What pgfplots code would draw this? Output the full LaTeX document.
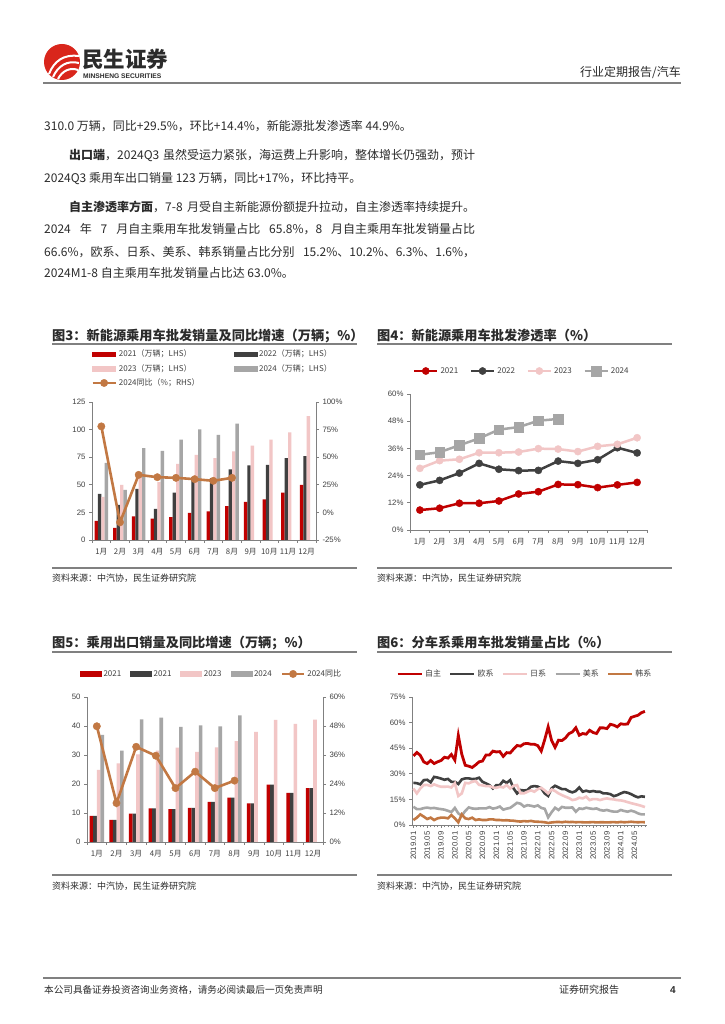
\documentclass[border=0pt]{standalone}
\usepackage{fontspec}
\setmainfont{Noto Sans CJK SC}
\newfontfamily\lat{Liberation Sans}
\usepackage{pgfplots}
\pgfplotsset{compat=1.18}
\usepackage{pgfplotstable}
\XeTeXlinebreaklocale "zh"
\XeTeXlinebreakskip=0pt plus 10pt

\newcommand\fs[1]{\fontsize{#1}{#1}\selectfont}

\definecolor{cred}{HTML}{C00000}
\definecolor{cdark}{HTML}{404040}
\definecolor{cpink}{HTML}{F2C6C6}
\definecolor{cgray}{HTML}{A6A6A6}
\definecolor{corange}{HTML}{C27843}
\definecolor{caxis}{HTML}{808080}
\definecolor{ctext}{HTML}{404040}
\definecolor{cbody}{HTML}{2B2B2B}
\definecolor{logored}{HTML}{D9261C}

% 图3 新能源乘用车批发销量(万辆) / 2024同比(%)
\pgfplotstableread{
m a b c d g
0 17.3 41.8 39.0 69.9 77.9
1 10.9 31.8 49.9 45.4 -9.0
2 21.5 46.3 60.0 83.2 34.0
3 19.4 28.1 52.5 80.8 31.9
4 20.6 43.0 69.0 90.8 31.3
5 24.5 57.0 77.2 100.2 30.1
6 26.0 56.0 74.2 95.3 28.6
7 30.6 63.9 80.2 105.3 31.3
8 34.5 67.5 85.4 nan nan
9 36.9 68.1 90.8 nan nan
10 43.0 74.2 97.5 nan nan
11 49.9 76.0 112.3 nan nan
}\tabthree

% 图4 渗透率(%)
\pgfplotstableread{
m a b c d
0 8.8 19.9 27.2 33.2
1 9.6 21.9 30.6 34.3
2 11.8 25.1 31.2 37.4
3 11.8 29.4 34.1 40.4
4 12.8 26.8 34.1 44.3
5 15.9 26.2 34.4 45.4
6 16.9 26.3 35.9 48.2
7 20.1 30.4 35.7 49.0
8 20.0 29.4 34.6 nan
9 18.7 31.0 36.9 nan
10 19.9 36.3 37.8 nan
11 21.0 34.0 40.7 nan
}\tabfour

% 图5 乘用车出口(万辆) / 2024同比(%)
\pgfplotstableread{
m a b c d g
0 9.0 9.0 24.9 36.9 47.9
1 7.6 7.6 27.1 31.5 16.1
2 9.8 9.8 30.2 42.3 39.4
3 11.6 11.6 31.5 42.9 35.7
4 11.3 11.3 32.5 39.7 22.3
5 11.8 11.8 31.1 40.2 29.1
6 13.8 13.8 32.6 39.9 22.3
7 15.3 15.3 34.8 43.7 25.4
8 13.3 13.3 38.0 nan nan
9 19.8 19.8 42.1 nan nan
10 16.9 16.9 40.7 nan nan
11 18.6 18.6 42.2 nan nan
}\tabfive

% 图6 分车系占比(%), i=0 为 2019.01
\pgfplotstableread{
i a b c d e
0 40.5 24.7 21.4 10.7 2.9
1 42.5 24.5 18.5 9.3 4.3
2 40.8 23.8 21.4 9.3 6.2
3 37.0 26.3 23.4 9.9 4.9
4 36.0 26.5 23.5 10.2 3.5
5 37.8 25.0 22.8 9.8 4.3
6 36.0 28.2 23.8 10.0 2.9
7 37.0 27.8 23.0 9.6 3.9
8 37.8 27.2 22.4 9.3 4.3
9 39.7 26.5 22.4 9.0 4.3
10 39.2 27.0 22.5 8.3 3.9
11 41.3 25.3 22.0 7.6 5.8
12 38.0 25.3 24.5 10.0 3.9
13 52.5 24.0 17.0 6.8 1.6
14 41.5 26.7 18.5 5.5 6.2
15 35.0 27.3 24.7 8.2 3.9
16 34.5 27.3 24.4 10.3 3.5
17 33.7 26.9 25.3 9.7 4.3
18 35.2 27.0 25.8 9.5 2.9
19 37.0 27.7 23.5 9.7 3.3
20 37.5 25.3 23.2 9.7 2.9
21 41.0 24.4 22.8 9.7 2.9
22 41.0 23.4 22.8 10.5 3.3
23 43.3 21.4 22.0 9.6 3.3
24 42.8 23.4 21.8 10.0 2.9
25 43.0 23.4 22.4 10.8 2.9
26 40.2 25.9 22.0 9.0 2.7
27 42.4 24.7 23.4 9.6 2.8
28 42.2 26.3 21.4 10.0 2.6
29 44.5 21.4 23.0 11.5 2.5
30 46.6 18.5 23.4 13.0 2.2
31 46.2 20.5 18.5 12.5 2.0
32 47.6 20.2 18.5 10.8 2.3
33 47.8 20.5 19.5 11.6 2.1
34 47.3 22.4 20.3 11.3 2.4
35 47.3 22.8 19.5 10.8 2.0
36 46.5 22.5 21.0 11.5 1.9
37 43.3 21.4 21.8 10.0 1.8
38 50.0 18.5 20.3 9.5 1.6
39 57.5 17.0 18.5 4.5 1.2
40 49.5 21.5 20.8 7.5 1.5
41 45.5 23.0 19.9 10.1 1.7
42 49.7 22.0 18.5 8.8 1.8
43 49.5 21.0 17.5 10.6 1.6
44 51.0 21.0 16.6 10.1 1.9
45 53.5 19.8 15.8 10.1 1.7
46 54.5 19.1 14.6 10.3 1.8
47 57.0 19.9 15.0 7.8 1.6
48 52.6 22.0 16.0 9.7 1.7
49 53.6 19.5 15.6 9.4 1.6
50 53.2 20.1 16.6 10.1 1.5
51 55.5 19.5 14.6 9.7 1.6
52 54.2 19.9 15.2 9.4 1.7
53 53.6 19.5 15.2 9.7 1.5
54 56.9 19.5 14.6 8.8 1.6
55 56.9 18.5 15.2 8.4 1.6
56 56.5 18.5 15.6 8.8 1.5
57 59.0 18.1 15.2 8.2 1.6
58 58.5 16.9 15.0 7.8 1.7
59 57.5 17.5 14.6 7.8 1.5
60 59.3 18.5 14.4 8.8 1.8
61 59.0 19.3 14.0 8.2 1.6
62 59.2 18.9 13.4 7.8 1.7
63 63.0 18.1 12.8 8.4 1.9
64 63.7 17.0 12.3 7.8 1.7
65 64.3 16.2 11.8 6.8 1.6
66 65.8 16.8 11.2 6.2 1.7
67 66.6 16.5 10.5 6.2 1.6
}\tabsix

\pgfplotsset{
  rpt/.style={
    scale only axis,
    clip=false,
    axis line style={caxis, line width=0.9pt},
    tick style={caxis, line width=0.8pt},
    tick align=outside,
    major tick length=3pt,
    minor tick length=3pt,
    tick label style={font=\fs{7.8}\lat, text=ctext},
    /pgf/number format/assume math mode=true,
    legend cell align=left,
  },
  months/.style={
    xmin=-0.5, xmax=11.5,
    xtick={0,...,11},
    xticklabels={1月,2月,3月,4月,5月,6月,7月,8月,9月,10月,11月,12月},
    xticklabel style={font=\fs{7.8}\rmfamily, yshift=-1.5pt},
    major x tick style={draw=none},
    minor xtick={-0.5,0.5,...,11.5},
  },
  leg/.style={
    legend style={draw=none, fill=none, inner sep=0pt, font=\fs{8}, text=ctext, #1},
  },
  pct/.style={yticklabel={\pgfmathprintnumber{\tick}\%}},
  linelegend/.style={legend image code/.code={\draw[mark repeat=2,mark phase=2,##1] plot coordinates {(0pt,0pt) (11.5pt,0pt) (23pt,0pt)};}},
  linelegendb/.style={legend image code/.code={\draw[mark repeat=2,mark phase=2,##1] plot coordinates {(0pt,0pt) (11pt,0pt) (22pt,0pt)};}},
  plainlegend/.style={legend image code/.code={\draw[##1] (0pt,0pt) -- (24pt,0pt);}},
  barleg/.style={legend image code/.code={\fill[#1] (0pt,-2.4pt) rectangle (23pt,2.4pt);}},
  barlegb/.style={legend image code/.code={\fill[#1] (0pt,-2.6pt) rectangle (21pt,2.6pt);}},
}

\begin{document}
\begin{tikzpicture}[x=1pt,y=1pt]
\fill[white] (0,0) rectangle (724,1024);

% ---- header
\fill[logored] (62,962) circle (18);
\begin{scope}[white, line width=2pt]
  \draw (49,950) .. controls (54,963) and (64,970) .. (79,968);
  \draw (53,947) .. controls (58,958) and (67,964) .. (79,961);
  \draw (58,945) .. controls (62,953) and (70,957) .. (78,954);
\end{scope}
\node[anchor=base west, font=\fs{21.5}\bfseries, text=cbody, inner sep=0pt] at (82,956) {民生证券};
\node[anchor=base west, font=\fs{6.7}\lat\bfseries, text=cbody, inner sep=0pt] at (83,945) {MINSHENG SECURITIES};
\node[anchor=base east, font=\fs{12}, text=cbody, inner sep=0pt] at (681,947) {行业定期报告/汽车};
\draw[caxis, line width=1.3pt] (43,941) -- (681,941);

% ---- body text
\begin{scope}[every node/.style={anchor=base west, font=\fs{12}, text=cbody, inner sep=0pt}]
\node at (44,893.5) {310.0 万辆，同比+29.5\%，环比+14.4\%，新能源批发渗透率 44.9\%。};
\node at (69,864.5) {\makebox[406pt][s]{{\bfseries 出口端}，2024Q3\ 虽然受运力紧张，海运费上升影响，整体增长仍强劲，预计}};
\node at (44,841) {2024Q3 乘用车出口销量 123 万辆，同比+17\%，环比持平。};
\node at (69,812.5) {\makebox[406pt][s]{{\bfseries 自主渗透率方面}，7-8\ 月受自主新能源份额提升拉动，自主渗透率持续提升。}};
\node at (44,790) {\XeTeXlinebreakskip=0pt plus 0.3pt\makebox[431pt][s]{2024 年 7 月自主乘用车批发销量占比 65.8\%，8 月自主乘用车批发销量占比}};
\node at (44,767.5) {\XeTeXlinebreakskip=0pt plus 0.3pt\makebox[431pt][s]{66.6\%，欧系、日系、美系、韩系销量占比分别 15.2\%、10.2\%、6.3\%、1.6\%，}};
\node at (44,746) {2024M1-8 自主乘用车批发销量占比达 63.0\%。};
\end{scope}

% ---- figure titles, rules, sources
\begin{scope}[every node/.style={anchor=base west, inner sep=0pt, text=cbody}]
\node[font=\fs{13.2}\bfseries] at (52,683) {图3：新能源乘用车批发销量及同比增速（万辆；\%）};
\node[font=\fs{13.2}\bfseries] at (377,683) {图4：新能源乘用车批发渗透率（\%）};
\node[font=\fs{13.2}\bfseries] at (52,376) {图5：乘用出口销量及同比增速（万辆；\%）};
\node[font=\fs{13.2}\bfseries] at (377,376) {图6：分车系乘用车批发销量占比（\%）};
\node[font=\fs{9}] at (52,442) {资料来源：中汽协，民生证券研究院};
\node[font=\fs{9}] at (377,442) {资料来源：中汽协，民生证券研究院};
\node[font=\fs{9}] at (52,134) {资料来源：中汽协，民生证券研究院};
\node[font=\fs{9}] at (377,134) {资料来源：中汽协，民生证券研究院};
\end{scope}
\begin{scope}[caxis, line width=1.3pt]
\draw (52,680) -- (357,680);
\draw (377,680) -- (672,680);
\draw (52,372) -- (357,372);
\draw (377,372) -- (672,372);
\draw (52,456) -- (357,456);
\draw (377,456) -- (672,456);
\draw (52,149) -- (357,149);
\draw (377,149) -- (672,149);
\end{scope}

% ---- footer
\draw[caxis, line width=1.3pt] (43,46) -- (681,46);
\node[anchor=base west, font=\fs{9.6}, text=cbody, inner sep=0pt] at (44,30) {本公司具备证券投资咨询业务资格，请务必阅读最后一页免责声明};
\node[anchor=base west, font=\fs{10}, text=cbody, inner sep=0pt] at (559,30) {证券研究报告};
\node[anchor=base west, font=\fs{10}\lat\bfseries, text=cbody, inner sep=0pt] at (670,30) {4};

% ================= 图3 =================
\begin{axis}[rpt, months, at={(92pt,484pt)}, anchor=south west, width=224pt, height=138pt,
  ybar=0pt, bar width=3.4pt,
  ymin=0, ymax=125, ytick={0,25,...,125},
  axis x line*=bottom, axis y line*=left]
\addplot[fill=cred, draw=none] table[x=m,y=a] {\tabthree};
\addplot[fill=cdark, draw=none] table[x=m,y=b] {\tabthree};
\addplot[fill=cpink, draw=none] table[x=m,y=c] {\tabthree};
\addplot[fill=cgray, draw=none] table[x=m,y=d] {\tabthree};
\end{axis}
\begin{axis}[rpt, pct, at={(92pt,484pt)}, anchor=south west, width=224pt, height=138pt,
  xmin=-0.5, xmax=11.5, ymin=-25, ymax=100, ytick={-25,0,...,100},
  axis y line*=right, axis x line=none,
  leg={at={(axis description cs:-0.004,1.392)}, anchor=north west, legend columns=2,
       row sep=2pt, /tikz/every even column/.append style={column sep=32pt}}]
\addlegendimage{barleg=cred}
\addlegendentry{2021（万辆；LHS）}
\addlegendimage{barleg=cdark}
\addlegendentry{2022（万辆；LHS）}
\addlegendimage{barleg=cpink}
\addlegendentry{2023（万辆；LHS）}
\addlegendimage{barleg=cgray}
\addlegendentry{2024（万辆；LHS）}
\addplot[corange, line width=2.6pt, mark=*, mark size=3.7pt, mark options={line width=0.4pt},
  linelegend] table[x=m,y=g] {\tabthree};
\addlegendentry{2024同比（\%；RHS）}
\end{axis}

% ================= 图4 =================
\begin{axis}[rpt, months, pct, linelegend, at={(410pt,494pt)}, anchor=south west, width=237pt, height=136pt,
  ymin=0, ymax=60, ytick={0,12,...,60},
  axis x line*=bottom, axis y line*=left,
  leg={at={(axis description cs:0.012,1.169)}, anchor=west, legend columns=4,
       /tikz/every even column/.append style={column sep=9.5pt}}]
\addplot[cred, line width=2.5pt, mark=*, mark size=3.6pt, mark options={line width=0.4pt}] table[x=m,y=a] {\tabfour};
\addlegendentry{2021}
\addplot[cdark, line width=2.5pt, mark=*, mark size=3.6pt, mark options={line width=0.4pt}] table[x=m,y=b] {\tabfour};
\addlegendentry{2022}
\addplot[cpink, line width=2.5pt, mark=*, mark size=3.6pt, mark options={line width=0.4pt}] table[x=m,y=c] {\tabfour};
\addlegendentry{2023}
\addplot[cgray, line width=2.5pt, mark=square*, mark size=4.8pt, mark options={line width=0.4pt}] table[x=m,y=d] {\tabfour};
\addlegendentry{2024}
\end{axis}

% ================= 图5 =================
\begin{axis}[rpt, months, at={(87pt,182pt)}, anchor=south west, width=236pt, height=145pt,
  ybar=0pt, bar width=3.6pt,
  ymin=0, ymax=50, ytick={0,10,...,50},
  axis x line*=bottom, axis y line*=left]
\addplot[fill=cred, draw=none] table[x=m,y=a] {\tabfive};
\addplot[fill=cdark, draw=none] table[x=m,y=b] {\tabfive};
\addplot[fill=cpink, draw=none] table[x=m,y=c] {\tabfive};
\addplot[fill=cgray, draw=none] table[x=m,y=d] {\tabfive};
\end{axis}
\begin{axis}[rpt, pct, at={(87pt,182pt)}, anchor=south west, width=236pt, height=145pt,
  xmin=-0.5, xmax=11.5, ymin=0, ymax=60, ytick={0,12,...,60},
  axis y line*=right, axis x line=none,
  leg={at={(axis description cs:-0.03,1.159)}, anchor=west, legend columns=5,
       /tikz/every even column/.append style={column sep=7pt}}]
\addlegendimage{barlegb=cred}
\addlegendentry{2021}
\addlegendimage{barlegb=cdark}
\addlegendentry{2021}
\addlegendimage{barlegb=cpink}
\addlegendentry{2023}
\addlegendimage{barlegb=cgray}
\addlegendentry{2024}
\addplot[corange, line width=2.6pt, mark=*, mark size=3.7pt, mark options={line width=0.4pt},
  linelegendb] table[x=m,y=g] {\tabfive};
\addlegendentry{2024同比}
\end{axis}

% ================= 图6 =================
\begin{axis}[rpt, pct, plainlegend, at={(412pt,199pt)}, anchor=south west, width=235pt, height=128pt,
  xmin=-0.4, xmax=67.6, ymin=0, ymax=75, ytick={0,15,...,75},
  xtick={0,4,...,64},
  xticklabels={2019.01,2019.05,2019.09,2020.01,2020.05,2020.09,2021.01,2021.05,2021.09,2022.01,2022.05,2022.09,2023.01,2023.05,2023.09,2024.01,2024.05},
  xticklabel style={rotate=90, anchor=east},
  minor xtick={0,...,67}, major tick length=3pt, minor tick length=2.5pt,
  axis x line*=bottom, axis y line*=left,
  leg={at={(axis description cs:-0.068,1.18)}, anchor=west, legend columns=5,
       /tikz/every even column/.append style={column sep=6pt}}]
\addplot[cred, line width=2.8pt] table[x=i,y=a] {\tabsix};
\addlegendentry{自主}
\addplot[cdark, line width=2.6pt] table[x=i,y=b] {\tabsix};
\addlegendentry{欧系}
\addplot[cpink, line width=2.6pt] table[x=i,y=c] {\tabsix};
\addlegendentry{日系}
\addplot[cgray, line width=2.6pt] table[x=i,y=d] {\tabsix};
\addlegendentry{美系}
\addplot[corange, line width=2.6pt] table[x=i,y=e] {\tabsix};
\addlegendentry{韩系}
\end{axis}
\end{tikzpicture}
\end{document}
